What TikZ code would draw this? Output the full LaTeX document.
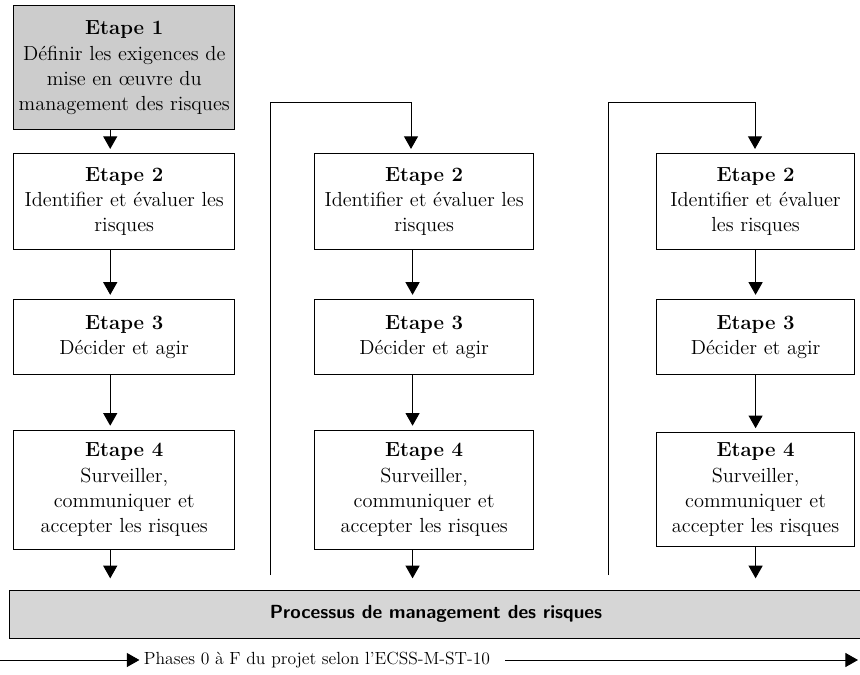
\documentclass[tikz,border=0pt]{standalone}
\usepackage{fontspec}
\usepackage{tikz}
\usetikzlibrary{matrix,arrows.meta}

\definecolor{etapegris}{gray}{0.80}
\definecolor{procgris}{gray}{0.84}

\newcommand{\cellule}[1]{\begin{tabular}{@{}c@{}}#1\end{tabular}}

\tikzset{
  fleche/.style={-{Triangle[width=10pt,length=9pt]}, line width=0.7pt, shorten >=3pt},
  etape/.style={draw, line width=0.6pt, anchor=center, inner sep=2pt,
                font=\fontsize{14.5}{18}\selectfont},
  procbox/.style={draw, line width=0.6pt, fill=procgris, minimum width=21.3cm, minimum height=1.2cm,
                  font=\sffamily\bfseries\fontsize{13.5}{16}\selectfont},
}

\begin{document}
\begin{tikzpicture}[x=0.025cm, y=-0.025cm]
\useasboundingbox (0,0) rectangle (860,675);

            \matrix (m) at (13,5) [matrix of nodes, anchor=north west, inner sep=0pt,
                        nodes={etape, minimum width=5.525cm},
                        column sep=1.975cm,
                        column 2/.style={nodes={minimum width=5.475cm}},
                        column 3/.style={nodes={minimum width=4.95cm}},
                        row 1/.style={nodes={minimum height=3.1cm}},
                        row 2/.style={nodes={minimum height=2.4cm}},
                        row 3/.style={nodes={minimum height=1.875cm}},
                        row 4/.style={nodes={minimum height=2.975cm}},
                        row 4 column 3/.style={nodes={minimum height=2.85cm}}
                        ]
            {
             |[fill=etapegris]| \cellule{\textbf{Etape 1}\\Définir les exigences de\\mise en œuvre du\\management des risques} &  &[1.075cm]  \\[0.575cm]
             \cellule{\textbf{Etape 2}\\Identifier et évaluer les\\risques} & \cellule{\textbf{Etape 2}\\Identifier et évaluer les\\risques} &[1.075cm] \cellule{\textbf{Etape\ 2}\\Identifier et évaluer\\les risques} \\[1.225cm]
             \cellule{\textbf{Etape 3}\\Décider et agir} & \cellule{\textbf{Etape\ 3}\\Décider et agir} &[1.075cm] \cellule{\textbf{Etape\ 3}\\Décider et agir} \\[1.375cm]
             \cellule{\textbf{Etape 4}\\Surveiller,\\communiquer et\\accepter les risques} & \cellule{\textbf{Etape 4}\\Surveiller,\\communiquer et\\accepter les risques} &[1.075cm] \cellule{\textbf{Etape\ 4}\\Surveiller,\\communiquer et\\accepter les risques} \\
              };

            \node[procbox] (proc) at (436,614) {Processus de management des risques};
            \node[font=\fontsize{12.5}{14}\selectfont, inner sep=2pt] (phases) at (317,660) {Phases 0 à F du projet selon l'ECSS-M-ST-10};

            % retours vers l'etape 2
            \coordinate (b2) at (270,575);
            \coordinate (h2) at (411,102);
            \coordinate (b3) at (608,575);
            \coordinate (h3) at (755,102);
            \draw[fleche] (b2) |- (h2) -- (h2 |- m-2-2.north);
            \draw[fleche] (b3) |- (h3) -- (h3 |- m-2-3.north);

            % colonne 1
            \draw[fleche] ([xshift=-0.35cm]m-1-1.south) -- ([xshift=-0.35cm]m-2-1.north);
            \draw[fleche] ([xshift=-0.35cm]m-2-1.south) -- ([xshift=-0.35cm]m-3-1.north);
            \draw[fleche] ([xshift=-0.35cm]m-3-1.south) -- ([xshift=-0.35cm]m-4-1.north);
            \draw[fleche, shorten >=8pt] ([xshift=-0.35cm]m-4-1.south) -- ([xshift=-0.35cm]m-4-1.south |- proc.north);

            % colonne 2
            \draw[fleche] ([xshift=-0.29cm]m-2-2.south) -- ([xshift=-0.29cm]m-3-2.north);
            \draw[fleche] ([xshift=-0.29cm]m-3-2.south) -- ([xshift=-0.29cm]m-4-2.north);
            \draw[fleche, shorten >=8pt] ([xshift=-0.29cm]m-4-2.south) -- ([xshift=-0.29cm]m-4-2.south |- proc.north);

            % colonne 3
            \draw[fleche] (m-2-3.south) -- (m-3-3.north);
            \draw[fleche] (m-3-3.south) -- (m-4-3.north);
            \draw[fleche, shorten >=8pt] (m-4-3.south) -- (m-4-3.south |- proc.north);

            % phases du projet
            \coordinate (pg) at (0,660);
            \coordinate (pd) at (858,660);
            \draw[fleche, shorten >=1pt] (pg) -- (phases.west);
            \draw[fleche, shorten >=0pt] ([xshift=0.3cm]phases.east) -- (pd);
\end{tikzpicture}
\end{document}
